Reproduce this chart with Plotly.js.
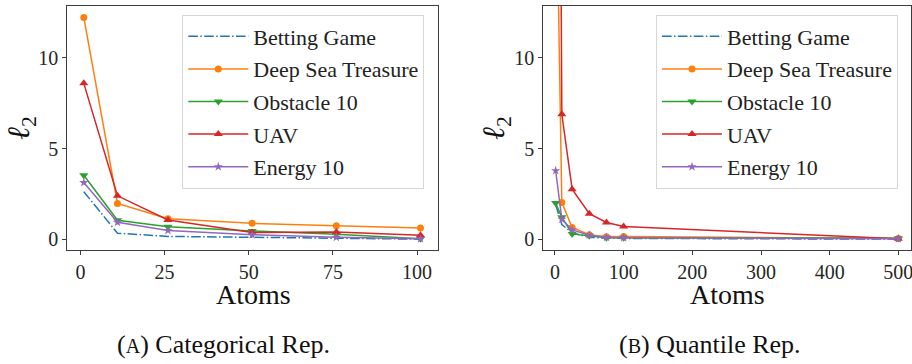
<!DOCTYPE html>
<html>
<head>
<meta charset="utf-8">
<script src="https://cdn.plot.ly/plotly-3.0.1.min.js"></script>
<style>html,body{margin:0;padding:0;background:#fff;}#chart{width:912px;height:364px;}</style>
</head>
<body>
<div id="chart"></div>
<script>
// ---------- data ----------
const seriesNames = ["Betting Game", "Deep Sea Treasure", "Obstacle 10", "UAV", "Energy 10"];

// (A) Categorical representation
const atomsCat = [1, 11, 26, 51, 76, 101];
const catBetting  = [2.62, 0.33, 0.15, 0.08, 0.05, 0.0];
const catDST      = [12.24, 1.97, 1.13, 0.87, 0.74, 0.62];
const catObstacle = [3.53, 1.04, 0.68, 0.45, 0.27, 0.02];
const catUAV      = [8.6, 2.39, 1.06, 0.36, 0.40, 0.21];
const catEnergy   = [3.12, 0.93, 0.48, 0.24, 0.10, 0.02];

// (B) Quantile representation
const atomsQuant = [1, 10, 25, 50, 75, 100, 500];
const qBetting  = [1.9, 0.8, 0.35, 0.1, 0.05, 0.04, 0.0];
const qDST      = [22.3, 2.02, 0.64, 0.24, 0.13, 0.15, 0.03];
const qObstacle = [1.99, 1.21, 0.29, 0.18, 0.07, 0.07, 0.05];
const qUAV      = [66, 6.89, 2.76, 1.4, 0.92, 0.70, 0.02];
const qEnergy   = [3.78, 1.10, 0.51, 0.22, 0.10, 0.08, 0.02];

const catTicks = [0, 25, 50, 75, 100];
const quantTicks = [0, 100, 200, 300, 400, 500];
const yTicks = [0, 5, 10];
const xTitle = "Atoms";
const yTitle = "<i>ℓ</i><sub>2</sub>";
const captions = ["(<span style='font-size:20px'>A</span>) Categorical Rep.",
                  "(<span style='font-size:20px'>B</span>) Quantile Rep."];

// ---------- styles ----------
const colors = ["#1f77b4", "#ff7f0e", "#2ca02c", "#d62728", "#9467bd"];
const styles = [
  {mode: "lines", line: {dash: "9.6px,2.4px,1.5px,2.4px"}},
  {mode: "lines+markers", marker: {symbol: "circle", size: 7}},
  {mode: "lines+markers", marker: {symbol: "triangle-down", size: 8}},
  {mode: "lines+markers", marker: {symbol: "triangle-up", size: 8}},
  {mode: "lines+markers", marker: {symbol: "star", size: 7}}
];
const FONT = "Liberation Serif, Times New Roman, serif";

function makeTraces(xs, ys, xa, ya, leg) {
  return ys.map((y, i) => {
    const st = styles[i];
    const t = {
      type: "scatter", x: xs, y: y, name: seriesNames[i], mode: st.mode,
      xaxis: xa, yaxis: ya, legend: leg, legendgroup: leg + i,
      line: Object.assign({color: colors[i], width: 1.5}, st.line || {}),
      cliponaxis: true
    };
    if (st.marker) t.marker = Object.assign({color: colors[i]}, st.marker);
    return t;
  });
}

const traces = [].concat(
  makeTraces(atomsCat, [catBetting, catDST, catObstacle, catUAV, catEnergy], "x", "y", "legend"),
  makeTraces(atomsQuant, [qBetting, qDST, qObstacle, qUAV, qEnergy], "x2", "y2", "legend2")
);

const W = 912, H = 364;
const axisCommon = {
  showgrid: false, zeroline: false, showline: true, mirror: true,
  linecolor: "#3c3c3c", linewidth: 1,
  ticks: "outside", ticklen: 4, tickwidth: 1, tickcolor: "#3c3c3c",
  tickfont: {family: FONT, size: 20, color: "#262626"},
  tickmode: "array", ticklabeloverflow: "allow"
};
const yDom = [(H - 250) / H, (H - 6) / H];

function legendAt(left) {
  return {
    x: left / W, y: (H - 14.5) / H, xanchor: "left", yanchor: "top",
    bgcolor: "rgba(255,255,255,0.85)", bordercolor: "#d6d6d6", borderwidth: 1,
    font: {family: FONT, size: 22, color: "#222"},
    traceorder: "grouped", tracegroupgap: 1, itemwidth: 60
  };
}

function ann(text, px, py, size, angle) {
  return {text: text, x: px / W, y: (H - py) / H, xref: "paper", yref: "paper",
          xanchor: "center", yanchor: "middle", showarrow: false, textangle: angle || 0,
          font: {family: FONT, size: size, color: "#111"}};
}

const layout = {
  width: W, height: H,
  margin: {l: 0, r: 0, t: 0, b: 0},
  paper_bgcolor: "#fff", plot_bgcolor: "#fff",
  showlegend: true,
  xaxis: Object.assign({}, axisCommon, {
    domain: [67.3 / W, 438 / W], range: [-3.9, 106.2], tickvals: catTicks, anchor: "y"
  }),
  yaxis: Object.assign({}, axisCommon, {
    domain: yDom, range: [-0.6, 12.87], tickvals: yTicks, anchor: "x"
  }),
  xaxis2: Object.assign({}, axisCommon, {
    domain: [543.3 / W, 911 / W], range: [-17, 518.4], tickvals: quantTicks, anchor: "y2"
  }),
  yaxis2: Object.assign({}, axisCommon, {
    domain: yDom, range: [-0.6, 12.87], tickvals: yTicks, anchor: "x2"
  }),
  legend: legendAt(182.3),
  legend2: legendAt(656),
  annotations: [
    ann(xTitle, 253, 294, 28),
    ann(xTitle, 727, 294, 28),
    ann(yTitle, 21, 128, 31, -90),
    ann(yTitle, 496, 128, 31, -90),
    ann(captions[0], 223, 344, 26),
    ann(captions[1], 710, 344, 26)
  ]
};

Plotly.newPlot("chart", traces, layout, {staticPlot: true, displayModeBar: false});
</script>
</body>
</html>
